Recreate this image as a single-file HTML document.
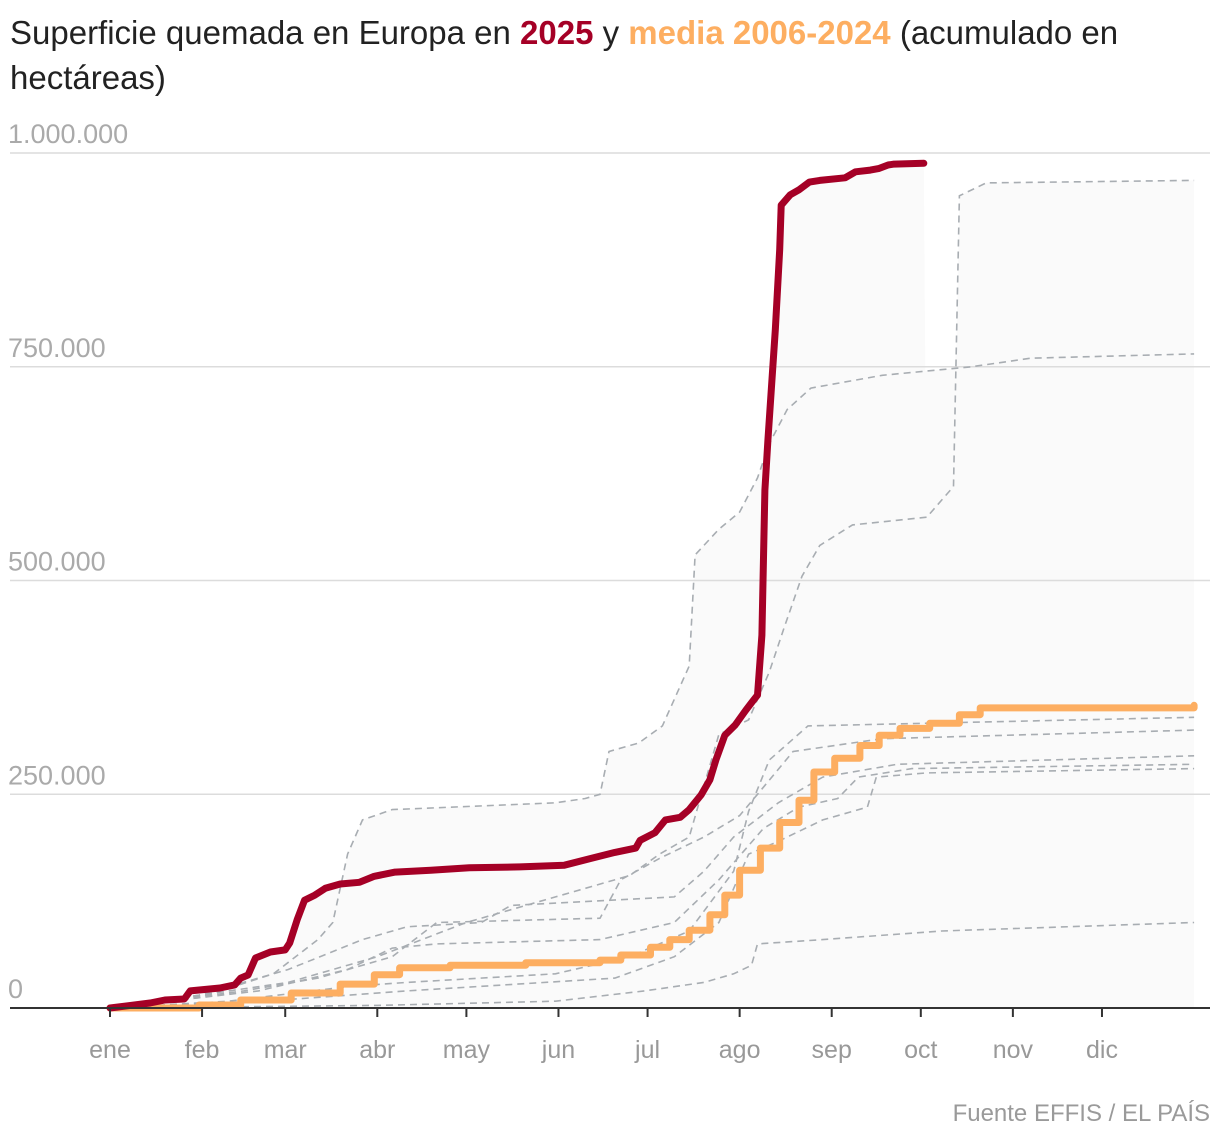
<!DOCTYPE html>
<html><head><meta charset="utf-8"><style>
body{margin:0;background:#fff;width:1220px;height:1146px;overflow:hidden;font-family:"Liberation Sans",sans-serif}
#title{position:absolute;left:10px;top:10px;width:1200px;font-size:33px;line-height:45px;color:#222}
#src{position:absolute;right:10px;top:1100px;font-size:24px;color:#9a9a9a}
svg{position:absolute;left:0;top:0}
</style></head><body>
<div id="title">Superficie quemada en Europa en <b style="color:#a50026">2025</b> y <b style="color:#fdae61">media 2006-2024</b> (acumulado en<br>hectáreas)</div>
<svg id="chart" width="1220" height="1146"></svg>
<div id="src">Fuente EFFIS / EL PAÍS</div>
<script>
const months=["ene","feb","mar","abr","may","jun","jul","ago","sep","oct","nov","dic"];
const monthStart=[0,31,59,90,120,151,181,212,243,273,304,334];
const yTicks=[0,250000,500000,750000,1000000];
const yTickLabels=["0","250.000","500.000","750.000","1.000.000"];
const series2025=[[0,0],[13.5,5800],[18.5,9400],[25,10500],[27,20000],[37,23400],[42,27000],[44,35000],[46.5,38600],[49,58500],[54,65500],[59,68000],[60.5,76000],[63,103000],[65.5,126000],[69,132000],[72.5,140000],[77.5,145000],[84,147000],[89,154000],[96,159000],[108,161000],[121,164000],[138,165000],[153,167000],[162,175000],[170,182000],[177,187000],[178.5,196000],[183.5,205000],[187,220000],[192,223000],[195,232000],[199,249000],[202,267000],[204,290000],[207,319000],[210.5,331000],[214,348000],[216,357000],[218,366000],[219.5,436000],[220.5,606000],[221.5,664000],[224,793000],[225.5,887000],[226,939000],[229,951000],[232,957000],[235.5,966000],[239,968000],[247.5,971000],[251,978000],[256,980000],[259,982000],[262,986000],[264,987000],[274,988000]];
const seriesMedia=[[0,0],[30,3500],[44,9400],[61,17500],[77.5,28000],[89,39000],[97.5,47000],[114.5,50000],[140,53000],[165,56000],[172,62000],[182,71000],[188.5,80000],[195,91000],[202,109000],[207,132000],[212,161000],[219,187000],[225.5,217000],[232,243000],[237,276000],[244,292000],[252.5,307000],[259,319000],[266,327000],[276,333000],[286,343000],[293,351000],[365,354000]];
const g1=[[0,0],[60,30000],[90,60000],[120,100000],[150,130000],[175,155000],[185,180000],[195,200000],[200,260000],[205,320000],[215,337000],[222,393000],[227,445000],[233,505000],[239,541000],[250,565000],[275,574000],[284,610000],[286,950000],[295,965000],[365,968000]];
const g2=[[0,0],[30,12000],[55,40000],[70,80000],[75,100000],[80,180000],[85,220000],[95,232000],[150,240000],[160,245000],[165,250000],[168,300000],[178,310000],[186,330000],[195,400000],[197,530000],[205,560000],[212,580000],[218,620000],[222,660000],[228,700000],[236,725000],[260,740000],[290,750000],[310,760000],[365,765000]];
const g3=[[0,0],[40,8000],[80,25000],[100,30000],[150,40000],[175,60000],[195,90000],[210,160000],[215,230000],[222,290000],[235,330000],[365,340000]];
const g4=[[0,0],[45,20000],[70,35000],[95,60000],[110,100000],[165,105000],[172,150000],[185,175000],[200,200000],[212,225000],[218,250000],[230,300000],[260,315000],[365,325000]];
const g5=[[0,0],[30,15000],[60,45000],[85,80000],[100,95000],[125,100000],[135,120000],[190,130000],[200,160000],[210,200000],[225,240000],[240,270000],[265,285000],[365,295000]];
const g6=[[0,0],[50,20000],[80,45000],[95,70000],[110,75000],[165,80000],[190,100000],[205,150000],[220,210000],[232,235000],[245,245000],[252,270000],[270,280000],[365,285000]];
const g7=[[0,0],[60,10000],[100,20000],[170,35000],[190,60000],[205,100000],[215,180000],[225,195000],[240,220000],[255,235000],[258,270000],[275,275000],[365,280000]];
const g8=[[0,0],[90,3000],[150,8000],[180,20000],[200,30000],[210,40000],[216,50000],[218,75000],[240,80000],[280,90000],[365,100000]];
const grays=[g1,g2,g3,g4,g5,g6,g7,g8];

const X=d=>110+d*2.97, Y=v=>1008-v*0.000855;
const svg=document.getElementById('chart');const NS="http://www.w3.org/2000/svg";
function mk(t,a){const e=document.createElementNS(NS,t);for(const k in a)e.setAttribute(k,a[k]);svg.appendChild(e);return e;}
function interp(s,d){if(d<s[0][0]||d>s[s.length-1][0])return null;for(let i=1;i<s.length;i++){if(d<=s[i][0]){const a=s[i-1],b=s[i];const t=(d-a[0])/((b[0]-a[0])||1);return a[1]+t*(b[1]-a[1]);}}return s[s.length-1][1];}
let pts=[];const all=grays.concat([series2025]);
for(let d=0;d<=365;d+=0.5){let m=0;all.forEach(s=>{const v=interp(s,d);if(v!==null&&v>m)m=v;});pts.push(X(d)+","+Y(m));}
pts.push(X(365)+","+Y(0));pts.push(X(0)+","+Y(0));
let band=mk('polygon',{points:pts.join(" "),fill:"#fafafa"});


yTicks.forEach((v,i)=>{
 if(i>0){const l=mk('line',{x1:10,x2:1210,y1:Y(v),y2:Y(v),stroke:"#dcdcdc","stroke-width":1.5});
 
 }
 const t=mk('text',{x:8,y:Y(v)-10,"font-size":27,fill:"#aaaaaa","font-family":"Liberation Sans, sans-serif"});t.textContent=yTickLabels[i];
 
 
});
const path=s=>s.map((p,i)=>(i?"L":"M")+X(p[0]).toFixed(1)+","+Y(p[1]).toFixed(1)).join("");
grays.forEach(g=>{const p=mk('path',{d:path(g),fill:"none",stroke:"#a8adb2","stroke-width":1.6,"stroke-dasharray":"7,5"});
 
 });
let sd="M"+X(seriesMedia[0][0])+","+Y(seriesMedia[0][1]);
for(let i=1;i<seriesMedia.length;i++){sd+="L"+X(seriesMedia[i][0]).toFixed(1)+","+Y(seriesMedia[i-1][1]).toFixed(1)+"L"+X(seriesMedia[i][0]).toFixed(1)+","+Y(seriesMedia[i][1]).toFixed(1);}
const m=mk('path',{d:sd,fill:"none",stroke:"#fdae61","stroke-width":7,"stroke-linejoin":"round","stroke-linecap":"round"});


const r=mk('path',{d:path(series2025),fill:"none",stroke:"#a50026","stroke-width":7,"stroke-linejoin":"round","stroke-linecap":"round"});


const ax=mk('line',{x1:10,x2:1210,y1:1008,y2:1008,stroke:"#333","stroke-width":2});


months.forEach((mo,i)=>{const x=X(monthStart[i]);
 const tk=mk('line',{x1:x,x2:x,y1:1008,y2:1017,stroke:"#333","stroke-width":2});
 
 
 const t=mk('text',{x:x,y:1058,"font-size":25,fill:"#999","text-anchor":"middle","font-family":"Liberation Sans, sans-serif"});t.textContent=mo;
 
 
});
</script>
</body></html>
